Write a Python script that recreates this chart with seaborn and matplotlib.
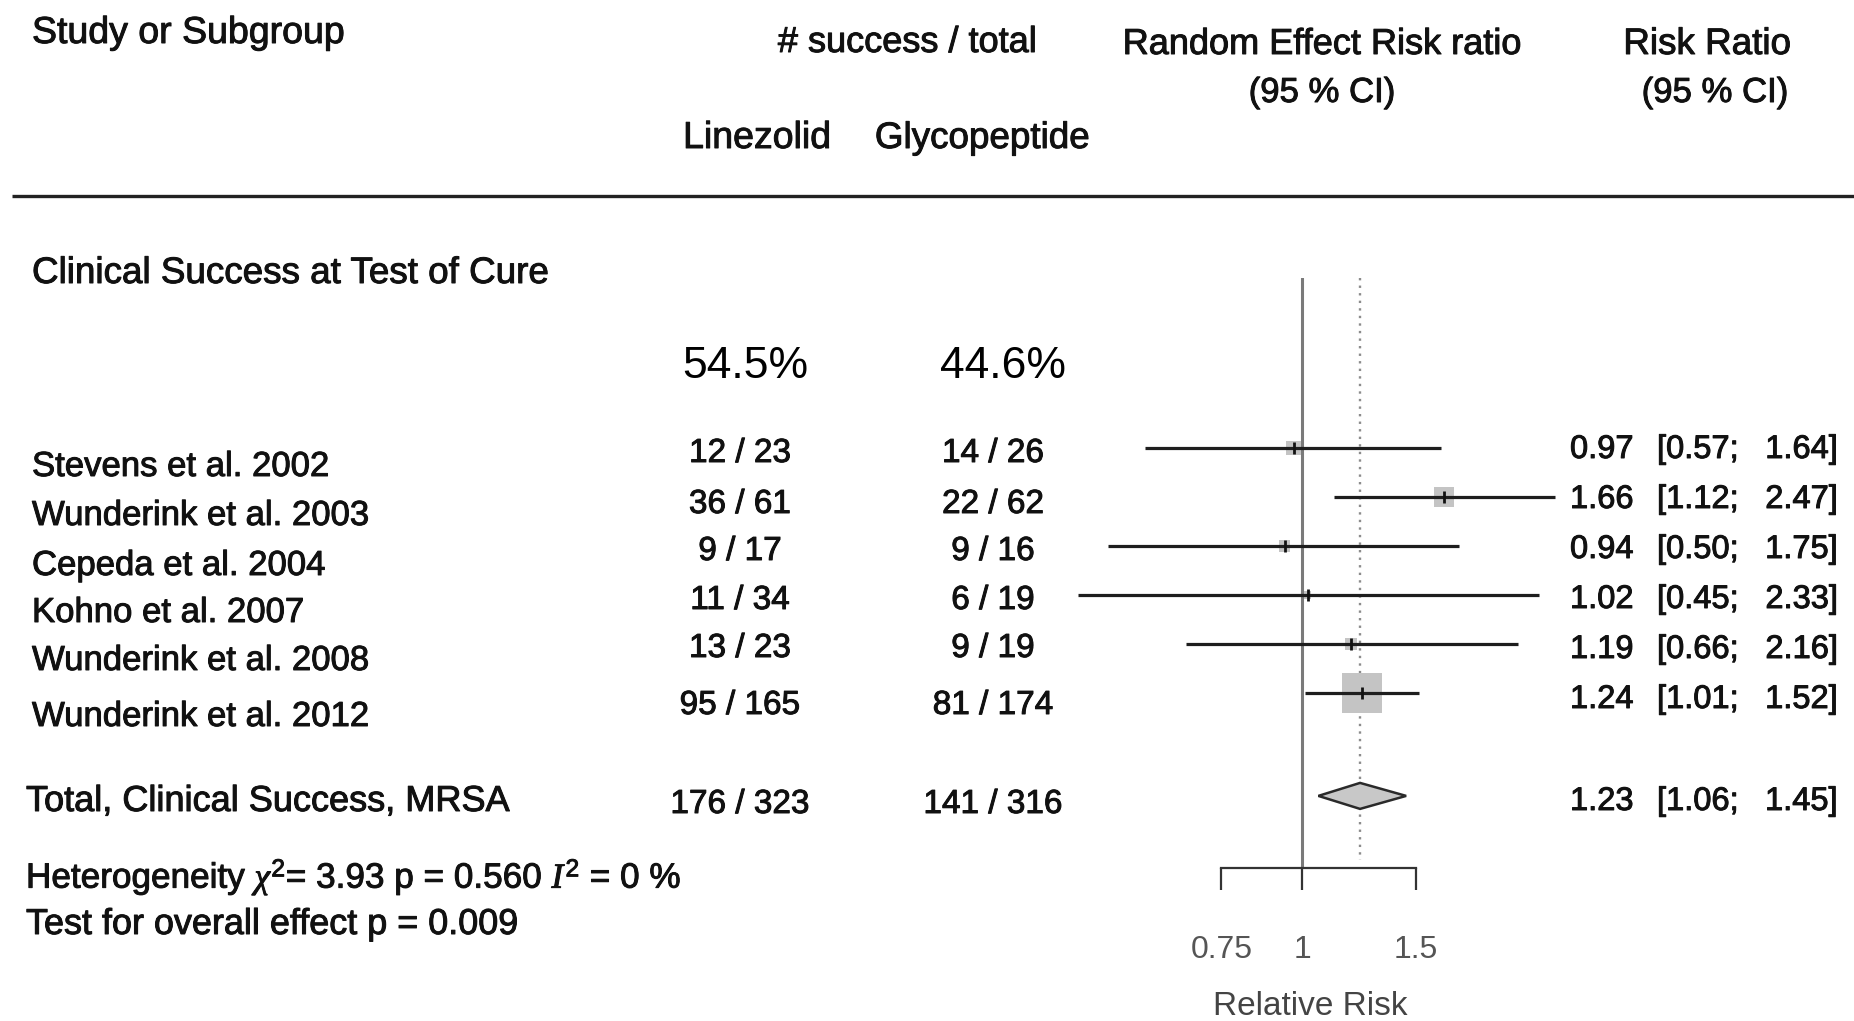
import matplotlib
matplotlib.use("Agg")
import matplotlib.pyplot as plt
import matplotlib.patheffects as pe
from matplotlib.ticker import NullLocator, NullFormatter
import pandas as pd
import seaborn as sns

# ---- study data -------------------------------------------------------------
studies = ["Stevens et al. 2002", "Wunderink et al. 2003", "Cepeda et al. 2004",
           "Kohno et al. 2007", "Wunderink et al. 2008", "Wunderink et al. 2012"]
lin_success = [12, 36, 9, 11, 13, 95]
lin_total = [23, 61, 17, 34, 23, 165]
gly_success = [14, 22, 9, 6, 9, 81]
gly_total = [26, 62, 16, 19, 19, 174]
rr = [0.97, 1.66, 0.94, 1.02, 1.19, 1.24]
rr_lo = [0.57, 1.12, 0.50, 0.45, 0.66, 1.01]
rr_hi = [1.64, 2.47, 1.75, 2.33, 2.16, 1.52]
weight_pct = [8.8, 15.7, 6.3, 3.6, 7.0, 58.6]

# pooled random-effects result
pooled_rr, pooled_lo, pooled_hi = 1.23, 1.06, 1.45
lin_events_all, lin_n_all = 176, 323
gly_events_all, gly_n_all = 141, 316
heterogeneity = r"Heterogeneity $\chi^2$= 3.93 p = 0.560 $I^2$ = 0 %"
overall_test = "Test for overall effect p = 0.009"

x_ticks = [0.75, 1, 1.5]
x_tick_labels = ["0.75", "1", "1.5"]

# ---- style ------------------------------------------------------------------
sns.set_theme(style="white")
plt.rcParams["font.family"] = ["Liberation Sans", "DejaVu Sans"]
plt.rcParams["mathtext.fontset"] = "custom"
plt.rcParams["mathtext.rm"] = "Liberation Sans"
plt.rcParams["mathtext.it"] = "Liberation Serif:italic"

W, H = 1854, 1021
fig = plt.figure(figsize=(W / 100, H / 100), dpi=100)
fig.patch.set_facecolor("white")

# text layer in pixel coordinates
bg = fig.add_axes([0, 0, 1, 1])
bg.set_xlim(0, W)
bg.set_ylim(H, 0)
bg.axis("off")


def put(x, y, s, size, ha="left", color="#111111", heavy=True, **kw):
    t = bg.text(x, y, s, fontsize=size, ha=ha, va="baseline", color=color, **kw)
    if heavy:
        t.set_path_effects([pe.withStroke(linewidth=0.7, foreground=color)])
    return t


# header
put(32, 43, "Study or Subgroup", 27)
put(907, 52, "# success / total", 26, ha="center")
put(1322, 54, "Random Effect Risk ratio", 26, ha="center")
put(1322, 102, "(95 % CI)", 25, ha="center")
put(1707, 54, "Risk Ratio", 26.5, ha="center")
put(1715, 102, "(95 % CI)", 25, ha="center")
put(757, 148, "Linezolid", 27, ha="center")
put(982, 148, "Glycopeptide", 26.5, ha="center")
bg.plot([12, W], [196, 196], color="#222222", lw=2.4, solid_capstyle="butt")

put(32, 283, "Clinical Success at Test of Cure", 26.5)
put(745, 378, f"{100 * lin_events_all / lin_n_all:.1f}%", 32, ha="center",
    color="black", heavy=False)
put(1003, 378, f"{100 * gly_events_all / gly_n_all:.1f}%", 32, ha="center",
    color="black", heavy=False)


def rr_cells(y, est, lo, hi):
    put(1570, y, f"{est:.2f}", 23.5)
    put(1657, y, f"[{lo:.2f};", 23.5)
    put(1838, y, f"{hi:.2f}]", 23.5, ha="right")


# per-study rows
name_y = [476, 525, 575, 622, 670, 726]
count_y = [462, 513, 560, 609, 657, 714]
ci_y = [458, 508, 558, 608, 658, 708]
for i, name in enumerate(studies):
    put(32, name_y[i], name, 25)
    put(740, count_y[i], f"{lin_success[i]} / {lin_total[i]}", 24, ha="center")
    put(993, count_y[i], f"{gly_success[i]} / {gly_total[i]}", 24, ha="center")
    rr_cells(ci_y[i], rr[i], rr_lo[i], rr_hi[i])

# totals
put(26, 811, "Total, Clinical Success, MRSA", 26)
put(740, 813, f"{lin_events_all} / {lin_n_all}", 24, ha="center")
put(993, 813, f"{gly_events_all} / {gly_n_all}", 24, ha="center")
rr_cells(810, pooled_rr, pooled_lo, pooled_hi)

put(26, 888, heterogeneity, 25.3)
put(26, 934, overall_test, 25.9)

# ---- forest panel -------------------------------------------------------------
row_px0, row_step = 448, 49
ax_top, ax_bottom, ax_left, ax_right = 278, 868, 1059, 1561
ax = fig.add_axes([ax_left / W, (H - ax_bottom) / H,
                   (ax_right - ax_left) / W, (ax_bottom - ax_top) / H])
ax.set_facecolor("none")
ax.set_xscale("log")
ax.set_xlim(0.42, 2.52)
y_top = (ax_top - row_px0) / row_step
y_bot = (ax_bottom - row_px0) / row_step
ax.set_ylim(y_bot, y_top)

rows = list(range(len(studies)))
pooled_row = 7.1
df = pd.DataFrame({"study": studies, "rr": rr, "lo": rr_lo, "hi": rr_hi,
                   "weight": weight_pct, "row": rows})

ax.axvline(1, color="#7a7a7a", lw=2.2, zorder=1)
ax.vlines(pooled_rr, y_top, y_bot - 0.17, colors="#8c8c8c",
          linestyles=(0, (1, 2.2)), lw=1.7, zorder=1)

sns.scatterplot(data=df, x="rr", y="row", size="weight", sizes=(30, 830),
                marker="s", color="#c4c4c4", linewidth=0, legend=False,
                ax=ax, zorder=2)
ax.hlines(df["row"], df["lo"], df["hi"], color="#1e1e1e", lw=2.3, zorder=3)
ax.scatter(df["rr"], df["row"], marker="|", s=70, c="#111111",
           linewidths=2, zorder=4)

half_h = 13 / row_step
ax.fill([pooled_lo, pooled_rr, pooled_hi, pooled_rr],
        [pooled_row, pooled_row - half_h, pooled_row, pooled_row + half_h],
        facecolor="#c8c8c8", edgecolor="#2a2a2a", lw=1.8, zorder=3)

for side in ["top", "right", "left"]:
    ax.spines[side].set_visible(False)
ax.spines["bottom"].set_bounds(x_ticks[0], x_ticks[-1])
ax.spines["bottom"].set_color("#333333")
ax.spines["bottom"].set_linewidth(1.6)
ax.set_xticks(x_ticks)
ax.set_xticklabels(x_tick_labels)
ax.xaxis.set_minor_locator(NullLocator())
ax.xaxis.set_minor_formatter(NullFormatter())
ax.tick_params(axis="x", direction="out", length=16, width=1.6, colors="#333333",
               pad=32, labelsize=23, labelcolor="#555555", bottom=True)
ax.set_yticks([])
ax.set_xlabel("Relative Risk", fontsize=24, color="#444444", labelpad=19)
ax.set_ylabel("")

fig.savefig("out.png", dpi=100, facecolor="white")
